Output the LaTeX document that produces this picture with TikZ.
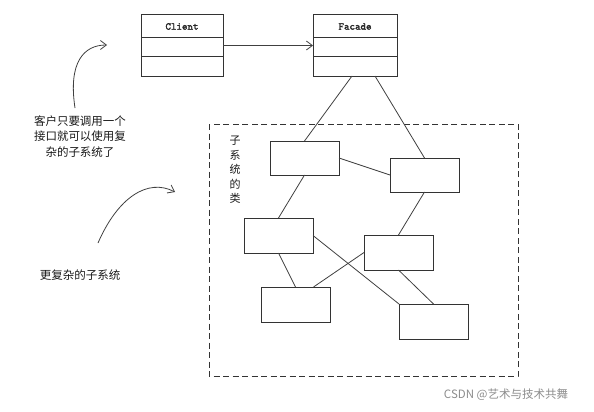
\documentclass[tikz,border=0pt]{standalone}
\usepackage{fontspec}
\setmainfont{Noto Sans CJK SC}
\newfontfamily\classfont{Latin Modern Mono}[FakeBold=2.2]
\usetikzlibrary{arrows.meta}

\begin{document}
\begin{tikzpicture}[x=1pt, y=-1pt,
   every node/.style={inner sep=0pt, outer sep=0pt},
   classbox/.style={draw=black!80, line width=1pt, minimum height=61pt},
   classname/.style={font=\classfont\fontsize{10.5}{12}\selectfont, text=black!85},
   subbox/.style={draw=black!80, line width=1pt, minimum width=69pt, minimum height=35pt},
   link/.style={draw=black!75, line width=0.8pt},
   barb/.style={-{Straight Barb[length=6pt,width=9pt]}},
   note/.style={font=\fontsize{11.5}{15.5}\selectfont, text=black!90, align=center}]
\useasboundingbox (0,0) rectangle (594,412);
% classes
\node[classbox, minimum width=82pt] (client) at (182,45.5) {};
\node[classbox, minimum width=84pt] (facade) at (355,45.5) {};
\node[classname] at ([yshift=-11.5pt]client.north) {Client};
\node[classname] at ([yshift=-11.5pt]facade.north) {Facade};
\foreach \n in {client,facade}
   \foreach \d in {23,42}
      \draw[black!80, line width=1pt] ([yshift=-\d pt]\n.north west) -- ([yshift=-\d pt]\n.north east);
\draw[link, barb] (client.east) -- (facade.west);
% subsystem
\draw[black!80, line width=1pt, dash pattern=on 6pt off 3.5pt] (209,124) rectangle (518,376);
\node[subbox, minimum height=34pt] (s1) at (304.5,158) {};
\node[subbox, minimum height=34pt] (s2) at (424.5,175) {};
\node[subbox] (s3) at (278.5,235.5) {};
\node[subbox] (s4) at (398.5,252.5) {};
\node[subbox] (s5) at (295.5,304.5) {};
\node[subbox] (s6) at (433.5,321.5) {};
\draw[link] ([xshift=-3pt]facade.south) -- (s1.north);
\draw[link] ([xshift=20pt]facade.south) -- (s2.north);
\draw[link] (s1.east) -- (s2.west);
\draw[link] (s1.south) -- (s3.north);
\draw[link] (s2.south) -- (s4.north);
\draw[link] (s3.east) -- (s6.north west);
\draw[link] (s3.south) -- (s5.north);
\draw[link] (s4.west) -- ([xshift=18pt]s5.north);
\draw[link] (s4.south) -- (s6.north);
\node[note, font=\fontsize{11}{14.5}\selectfont] (label) at (235,170) {子\\系\\统\\的\\类};
% notes
\node[note] (note1) at (80,136.5) {客户只要调用一个\\接口就可以使用复\\杂的子系统了};
\node[note] (note2) at (80,275) {更复杂的子系统};
\coordinate (tip1) at (107,45);
\coordinate (tip2) at (175,192);
\draw[link, barb] (75,108) .. controls (68,62) and (84,45) .. (tip1);
\draw[link, barb] (98,243) .. controls (118,197) and (148,178) .. (tip2);
\node[font=\fontsize{11.5}{14}\selectfont, text=black!45] (mark) at (506,395) {CSDN @艺术与技术共舞};
\end{tikzpicture}
\end{document}
